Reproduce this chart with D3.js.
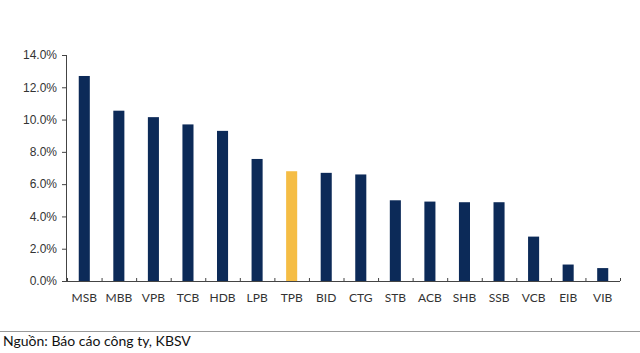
<!DOCTYPE html>
<html>
<head>
<meta charset="utf-8">
<script src="https://cdn.jsdelivr.net/npm/d3@7"></script>
<style>
  body { margin: 0; background: #fff; }
  svg { display: block; font-family: Lato, "Open Sans", sans-serif; }
</style>
</head>
<body>
<svg id="chart" width="640" height="353"></svg>
<script>
const banks = ["MSB", "MBB", "VPB", "TCB", "HDB", "LPB", "TPB", "BID", "CTG", "STB", "ACB", "SHB", "SSB", "VCB", "EIB", "VIB"];
const values = [12.7, 10.55, 10.15, 9.7, 9.3, 7.56, 6.8, 6.7, 6.6, 5.0, 4.92, 4.88, 4.88, 2.75, 1.02, 0.8];
const highlight = "TPB";
const yTicks = [0, 2, 4, 6, 8, 10, 12, 14];
const source = "Nguồn: Báo cáo công ty, KBSV";

const svg = d3.select("#chart");
const m = { left: 67, right: 620, top: 55, bottom: 281 };

const x = d3.scaleBand().domain(banks).range([m.left, m.right]).paddingInner(0.68).paddingOuter(0.34);
const y = d3.scaleLinear().domain([0, 14]).range([m.bottom, m.top]);

// y axis
const yAxis = svg.append("g").attr("transform", `translate(${m.left},0)`)
  .call(d3.axisLeft(y).tickValues(yTicks).tickSize(5).tickPadding(5).tickFormat(d => d.toFixed(1) + "%"));
yAxis.select(".domain").attr("stroke", "#444").attr("d", `M-0.5,${m.bottom}V${m.top}`);
yAxis.selectAll(".tick line").attr("stroke", "#444");
yAxis.selectAll(".tick text").attr("fill", "#333").style("font-size", "12px");

// bars
svg.append("g").selectAll("rect").data(banks).join("rect")
  .attr("x", d => x(d))
  .attr("y", (d, i) => y(values[i]))
  .attr("width", x.bandwidth())
  .attr("height", (d, i) => y(0) - y(values[i]))
  .attr("fill", d => d === highlight ? "#f5bd45" : "#0c2a58");

// x axis with ticks between categories
const step = x.step();
const xg = svg.append("g");
xg.append("line").attr("x1", m.left).attr("x2", m.right)
  .attr("y1", m.bottom + 0.5).attr("y2", m.bottom + 0.5).attr("stroke", "#444");
xg.selectAll("line.tk").data(d3.range(banks.length + 1)).join("line").attr("class", "tk")
  .attr("x1", i => m.left + i * step + 0.5).attr("x2", i => m.left + i * step + 0.5)
  .attr("y1", m.bottom).attr("y2", m.bottom - 3).attr("stroke", "#444");
xg.selectAll("text").data(banks).join("text")
  .attr("x", d => x(d) + x.bandwidth() / 2)
  .attr("y", 302)
  .attr("text-anchor", "middle")
  .attr("fill", "#333")
  .style("font-size", "12px")
  .text(d => d);

// source
svg.append("line").attr("x1", 0).attr("x2", 640).attr("y1", 331.5).attr("y2", 331.5)
  .attr("stroke", "#999").attr("stroke-width", 1);
svg.append("text").attr("x", 3).attr("y", 346).attr("fill", "#111")
  .style("font-size", "14px").text(source);
</script>
</body>
</html>
